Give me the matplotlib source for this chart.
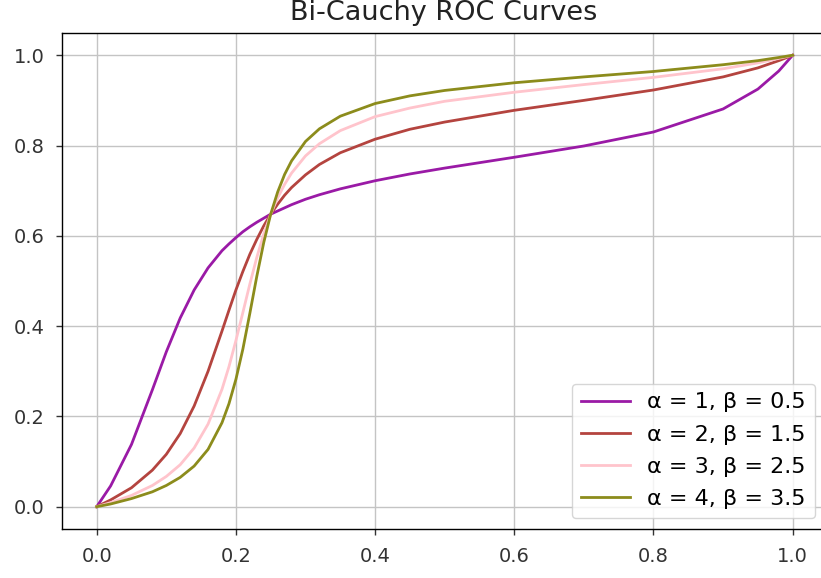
import matplotlib
matplotlib.use("Agg")
import matplotlib.pyplot as plt

plt.rcParams['font.family'] = ['DejaVu Sans']

# False positive rate sample points
fpr = [0, 0.02, 0.05, 0.08, 0.10, 0.12, 0.14, 0.16, 0.18, 0.19, 0.20, 0.21,
       0.22, 0.23, 0.24, 0.25, 0.26, 0.27, 0.28, 0.30, 0.32, 0.35, 0.40, 0.45,
       0.50, 0.60, 0.70, 0.80, 0.90, 0.95, 0.98, 1.0]

# True positive rate for each (alpha, beta) pair
tpr_a1 = [0, 0.046, 0.138, 0.259, 0.343, 0.418, 0.480, 0.529, 0.567, 0.582,
          0.596, 0.609, 0.620, 0.630, 0.639, 0.648, 0.655, 0.662, 0.669, 0.681,
          0.691, 0.704, 0.722, 0.737, 0.750, 0.774, 0.799, 0.830, 0.881, 0.925,
          0.965, 1.0]
tpr_a2 = [0, 0.015, 0.042, 0.081, 0.116, 0.162, 0.223, 0.300, 0.389, 0.435,
          0.480, 0.521, 0.559, 0.592, 0.622, 0.648, 0.670, 0.690, 0.707, 0.735,
          0.758, 0.784, 0.814, 0.836, 0.852, 0.878, 0.900, 0.923, 0.952, 0.972,
          0.988, 1.0]
tpr_a3 = [0, 0.009, 0.025, 0.047, 0.067, 0.093, 0.130, 0.183, 0.260, 0.310,
          0.368, 0.430, 0.493, 0.552, 0.604, 0.648, 0.684, 0.714, 0.739, 0.777,
          0.804, 0.833, 0.864, 0.883, 0.898, 0.918, 0.935, 0.951, 0.970, 0.983,
          0.993, 1.0]
tpr_a4 = [0, 0.006, 0.018, 0.033, 0.047, 0.065, 0.090, 0.127, 0.186, 0.228,
          0.282, 0.349, 0.428, 0.510, 0.585, 0.648, 0.697, 0.736, 0.766, 0.809,
          0.837, 0.865, 0.893, 0.910, 0.922, 0.939, 0.952, 0.964, 0.979, 0.988,
          0.995, 1.0]

labels = ["α = 1, β = 0.5", "α = 2, β = 1.5", "α = 3, β = 2.5", "α = 4, β = 3.5"]
colors = ["#9a1aa6", "#b4443f", "#ffc4cc", "#8c8c1c"]
series = [tpr_a1, tpr_a2, tpr_a3, tpr_a4]

fig = plt.figure(figsize=(8.21, 5.78), dpi=100)
ax = fig.add_axes([0.0754, 0.0843, 0.9325, 0.8592])

for y, c, lab in zip(series, colors, labels):
    ax.plot(fpr, y, color=c, lw=2.0, label=lab)

ax.set_xlim(-0.05, 1.05)
ax.set_ylim(-0.05, 1.05)
ticks = [0.0, 0.2, 0.4, 0.6, 0.8, 1.0]
ax.set_xticks(ticks)
ax.set_yticks(ticks)
ax.set_xticklabels([f"{t:.1f}" for t in ticks])
ax.set_yticklabels([f"{t:.1f}" for t in ticks])
ax.tick_params(labelsize=14, length=4.5, width=1, color='#333333',
               labelcolor='#333333', pad=8)
ax.grid(True, color='#c4c4c4', lw=1.0)
for s in ax.spines.values():
    s.set_linewidth(1.0)

fig.text(444 / 821, 1 - 20 / 578, "Bi-Cauchy ROC Curves", ha='center',
         va='baseline', fontsize=19.5, color='#222222')

ax.legend(loc='lower right', bbox_to_anchor=(815 / 821, 60 / 578),
          bbox_transform=fig.transFigure, borderaxespad=0, fontsize=16,
          handlelength=2.2, framealpha=0.8, edgecolor='#cccccc',
          labelspacing=0.55)

fig.savefig("out.png", dpi=100)
